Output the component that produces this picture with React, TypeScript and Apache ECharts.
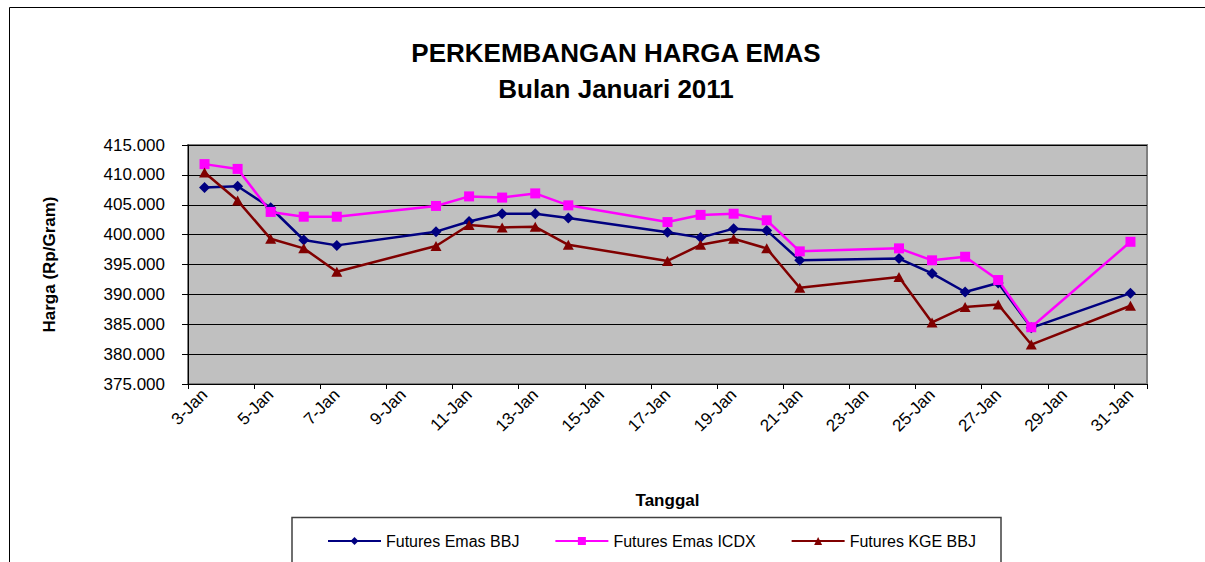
import React, { useEffect, useRef } from "react";
import * as echarts from "echarts";

const allDates = [
  "3-Jan", "4-Jan", "5-Jan", "6-Jan", "7-Jan", "8-Jan", "9-Jan", "10-Jan",
  "11-Jan", "12-Jan", "13-Jan", "14-Jan", "15-Jan", "16-Jan", "17-Jan",
  "18-Jan", "19-Jan", "20-Jan", "21-Jan", "22-Jan", "23-Jan", "24-Jan",
  "25-Jan", "26-Jan", "27-Jan", "28-Jan", "29-Jan", "30-Jan", "31-Jan",
];

const tradingDates = [
  "3-Jan", "4-Jan", "5-Jan", "6-Jan", "7-Jan", "10-Jan", "11-Jan", "12-Jan",
  "13-Jan", "14-Jan", "17-Jan", "18-Jan", "19-Jan", "20-Jan", "21-Jan",
  "24-Jan", "25-Jan", "26-Jan", "27-Jan", "28-Jan", "31-Jan",
];

const futuresEmasBBJ = [
  407900, 408100, 404500, 399100, 398200, 400500, 402200, 403500, 403500,
  402800, 400400, 399500, 401000, 400700, 395700, 396000, 393500, 390400,
  391900, 384400, 390200,
];

const futuresEmasICDX = [
  411800, 411000, 403800, 403000, 403000, 404800, 406400, 406200, 406900,
  404900, 402100, 403300, 403500, 402400, 397200, 397700, 395700, 396300,
  392400, 384500, 398800,
];

const futuresKGEBBJ = [
  410400, 405700, 399300, 397700, 393800, 398100, 401600, 401200, 401300,
  398300, 395600, 398300, 399300, 397700, 391100, 392900, 385300, 387900,
  388300, 381600, 388100,
];

const seriesNames = ["Futures Emas BBJ", "Futures Emas ICDX", "Futures KGE BBJ"];
const yMin = 375000;
const yMax = 415000;
const yStep = 5000;

const FONT = "'Liberation Sans', Arial, Helvetica, sans-serif";

function alignToDates(values: number[]): (number | null)[] {
  return allDates.map((d) => {
    const i = tradingDates.indexOf(d);
    return i >= 0 ? values[i] : null;
  });
}

export default function App() {
  const ref = useRef<HTMLDivElement>(null);

  useEffect(() => {
    document.body.style.margin = "0";
    document.body.style.overflow = "hidden";
    if (!ref.current) return;
    const chart = echarts.init(ref.current, null, { renderer: "svg" });

    const mkSeries = (name: string, values: number[], color: string, symbol: string, size: any) => ({
      name,
      type: "line",
      data: alignToDates(values),
      connectNulls: true,
      symbol,
      symbolSize: size,
      showAllSymbol: true,
      lineStyle: { color, width: 2.5 },
      itemStyle: { color, borderWidth: 0 },
      emphasis: { disabled: true },
    });

    chart.setOption({
      animation: false,
      backgroundColor: "#ffffff",
      textStyle: { fontFamily: FONT },
      title: {
        text: "PERKEMBANGAN HARGA EMAS\nBulan Januari 2011",
        left: 611,
        top: 30,
        textAlign: "center",
        textStyle: {
          fontFamily: FONT,
          fontSize: 26,
          fontWeight: "bold",
          lineHeight: 36,
          color: "#000",
        },
      },
      legend: {
        data: seriesNames,
        left: 327,
        top: 533,
        padding: 0,
        itemWidth: 53,
        itemHeight: 10,
        itemGap: 35,
        textStyle: { fontFamily: FONT, fontSize: 16, color: "#000" },
      },
      grid: {
        left: 188,
        right: 58,
        top: 145,
        bottom: 178,
        show: true,
        backgroundColor: "#C0C0C0",
        borderColor: "#808080",
        borderWidth: 2,
        containLabel: false,
      },
      xAxis: {
        type: "category",
        data: allDates,
        boundaryGap: true,
        name: "Tanggal",
        nameLocation: "middle",
        nameGap: 108,
        nameTextStyle: { fontFamily: FONT, fontSize: 17, fontWeight: "bold", color: "#000" },
        axisLine: { show: true, lineStyle: { color: "#000", width: 1 } },
        axisTick: { show: true, interval: 1, length: 5, lineStyle: { color: "#000" } },
        axisLabel: {
          interval: 1,
          rotate: 45,
          margin: 8,
          fontFamily: FONT,
          fontSize: 17,
          color: "#000",
        },
        splitLine: { show: false },
      },
      yAxis: {
        type: "value",
        min: yMin,
        max: yMax,
        interval: yStep,
        name: "Harga (Rp/Gram)",
        nameLocation: "middle",
        nameGap: 130,
        nameTextStyle: { fontFamily: FONT, fontSize: 17, fontWeight: "bold", color: "#000" },
        axisLine: { show: true, lineStyle: { color: "#000", width: 1 } },
        axisTick: { show: true, length: 6, lineStyle: { color: "#000" } },
        axisLabel: {
          margin: 23,
          fontFamily: FONT,
          fontSize: 17,
          color: "#000",
          formatter: (v: number) => (v / 1000).toFixed(3),
        },
        splitLine: { show: true, lineStyle: { color: "#000", width: 1 } },
      },
      graphic: [
        {
          type: "rect",
          shape: { x: 9.5, y: 7.5, width: 1400, height: 800 },
          style: { fill: "none", stroke: "#000", lineWidth: 1 },
          silent: true,
        },
        {
          type: "rect",
          shape: { x: 292, y: 517.5, width: 709, height: 100 },
          style: { fill: "none", stroke: "#404040", lineWidth: 1.5 },
          silent: true,
        },
      ],
      series: [
        mkSeries(seriesNames[0], futuresEmasBBJ, "#000080", "diamond", [11, 11]),
        mkSeries(seriesNames[1], futuresEmasICDX, "#FF00FF", "rect", [10, 10]),
        mkSeries(seriesNames[2], futuresKGEBBJ, "#800000", "triangle", [11, 10]),
      ],
    });

    return () => chart.dispose();
  }, []);

  return <div ref={ref} style={{ width: 1205, height: 562 }} />;
}
